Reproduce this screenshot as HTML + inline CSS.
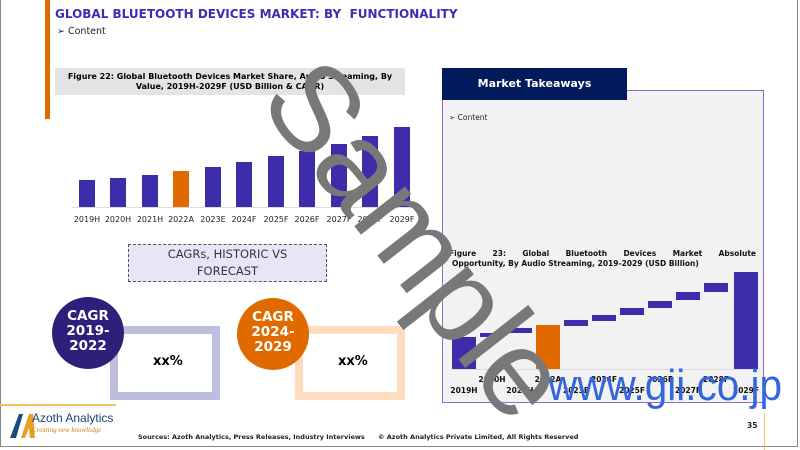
<!DOCTYPE html>
<html><head><meta charset="utf-8"><style>
body{margin:0;width:800px;height:450px;position:relative;overflow:hidden;background:#fff;font-family:"Liberation Sans",sans-serif}
.a{position:absolute}
.t{font-family:"DejaVu Sans",sans-serif}
</style></head><body>
<div class="a" style="left:0;top:0;width:796px;height:446px;border:1px solid #888;border-top:none"></div>
<div class="a" style="left:45px;top:0;width:5px;height:119px;background:#e06a00"></div>
<div class="a t" style="left:55px;top:7px;font-size:12px;font-weight:bold;color:#3b2fb0">GLOBAL BLUETOOTH DEVICES MARKET: BY &nbsp;FUNCTIONALITY</div>
<div class="a t" style="left:57px;top:26px;font-size:9.5px;color:#222">➢ Content</div>
<div class="a t" style="left:55px;top:68px;width:350px;height:27px;background:#e4e4e4;font-size:8px;font-weight:bold;text-align:center;line-height:10px;padding-top:4px;box-sizing:border-box">Figure 22: Global Bluetooth Devices Market Share, Audio Streaming, By<br>Value, 2019H-2029F (USD Billion &amp; CAGR)</div>
<svg class="a" style="left:0;top:0" width="800" height="450">
<line x1="72" y1="207.5" x2="418" y2="207.5" stroke="#ddd"/>
<g fill="#3d2daa">
<rect x="79" y="180" width="16" height="27"/><rect x="110" y="178" width="16" height="29"/><rect x="142" y="175" width="16" height="32"/>
<rect x="173" y="171" width="16" height="36" fill="#e06a00"/><rect x="205" y="167" width="16" height="40"/><rect x="236" y="162" width="16" height="45"/>
<rect x="268" y="156" width="16" height="51"/><rect x="299" y="151" width="16" height="56"/><rect x="331" y="144" width="16" height="63"/>
<rect x="362" y="136" width="16" height="71"/><rect x="394" y="127" width="16" height="80"/>
</g>
<g font-family="DejaVu Sans" font-size="8" fill="#222" text-anchor="middle">
<text x="87" y="222">2019H</text><text x="118" y="222">2020H</text><text x="150" y="222">2021H</text><text x="181" y="222">2022A</text><text x="213" y="222">2023E</text><text x="244" y="222">2024F</text><text x="276" y="222">2025F</text><text x="307" y="222">2026F</text><text x="339" y="222">2027F</text><text x="370" y="222">2028F</text><text x="402" y="222">2029F</text>
</g>
</svg>
<div class="a t" style="left:128px;top:244px;width:199px;height:38px;box-sizing:border-box;border:1.5px dashed #555;background:#e6e6f6;font-size:11.5px;color:#333;text-align:center;line-height:17px;padding-top:1px">CAGRs, HISTORIC VS<br>FORECAST</div>
<div class="a" style="left:110px;top:326px;width:110px;height:74px;box-sizing:border-box;border:8px solid #bdbddd;background:#fff"></div>
<div class="a" style="left:295px;top:326px;width:110px;height:74px;box-sizing:border-box;border:8px solid #fddcc0;background:#fff"></div>
<div class="a t" style="left:153px;top:354px;font-size:13px;font-weight:bold">xx%</div>
<div class="a t" style="left:338px;top:354px;font-size:13px;font-weight:bold">xx%</div>
<div class="a t" style="left:52px;top:297px;width:72px;height:72px;border-radius:50%;background:#2e1f7a;color:#fff;font-weight:bold;font-size:13.5px;text-align:center;line-height:15px;padding-top:12px;box-sizing:border-box">CAGR<br>2019-<br>2022</div>
<div class="a t" style="left:237px;top:298px;width:72px;height:72px;border-radius:50%;background:#e06a00;color:#fff;font-weight:bold;font-size:13.5px;text-align:center;line-height:15px;padding-top:12px;box-sizing:border-box">CAGR<br>2024-<br>2029</div>
<div class="a" style="left:0;top:404px;width:116px;height:2px;background:#f5c060"></div>
<svg class="a" style="left:8px;top:410px" width="30" height="30"><path d="M2 28 L11 4 L15 4 L8 28Z" fill="#1e4a7a"/><path d="M13 28 L21 4 L25 4 L27 28 L22 28 L21 18 L17 28Z" fill="#e8a020"/></svg>
<div class="a" style="left:32px;top:411px;font-size:12px;color:#1e3f70">Azoth Analytics</div>
<div class="a" style="left:32px;top:426px;font-size:7px;font-style:italic;color:#d08020;font-family:'Liberation Serif',serif">Creating new knowledge</div>
<div class="a t" style="left:138px;top:433px;font-size:6.5px;font-weight:bold;color:#222">Sources: Azoth Analytics, Press Releases, Industry Interviews</div>
<div class="a t" style="left:378px;top:433px;font-size:6.5px;font-weight:bold;color:#222">© Azoth Analytics Private Limited, All Rights Reserved</div>
<div class="a t" style="left:747px;top:421px;font-size:7.5px;font-weight:bold;color:#222">35</div>
<div class="a" style="left:764px;top:413px;width:1px;height:37px;background:#f5c060"></div>
<div class="a" style="left:442px;top:90px;width:322px;height:313px;box-sizing:border-box;border:1px solid #9966cc;background:#f2f2f2"></div>
<div class="a t" style="left:442px;top:68px;width:185px;height:32px;background:#001a5c;color:#fff;font-weight:bold;font-size:11px;text-align:center;line-height:32px">Market Takeaways</div>
<div class="a t" style="left:449px;top:113px;font-size:7.5px;color:#222">➢ Content</div>
<div class="a t" style="left:449px;top:249px;width:307px;font-size:7.5px;font-weight:bold;line-height:10px;text-align:justify;text-align-last:justify;color:#111">Figure 23: Global Bluetooth Devices Market Absolute<br></div>
<div class="a t" style="left:452px;top:259px;font-size:7.5px;font-weight:bold;color:#111">Opportunity, By Audio Streaming, 2019-2029 (USD Billion)</div>
<svg class="a" style="left:0;top:0" width="800" height="450">
<line x1="450" y1="369.5" x2="760" y2="369.5" stroke="#ddd"/>
<g fill="#3d2daa">
<rect x="452" y="337" width="24" height="32"/>
<rect x="480" y="333" width="24" height="4"/><rect x="508" y="328" width="24" height="5"/>
<rect x="536" y="325" width="24" height="44" fill="#e06a00"/>
<rect x="564" y="320" width="24" height="6"/><rect x="592" y="315" width="24" height="6"/><rect x="620" y="308" width="24" height="7"/>
<rect x="648" y="301" width="24" height="7"/><rect x="676" y="292" width="24" height="8"/><rect x="704" y="283" width="24" height="9"/>
<rect x="734" y="272" width="24" height="97"/>
</g>
<g font-family="DejaVu Sans" font-size="7.5" font-weight="bold" fill="#111" text-anchor="middle">
<text x="492" y="382">2020H</text><text x="548" y="382">2022A</text><text x="604" y="382">2024F</text><text x="660" y="382">2026F</text><text x="716" y="382">2028F</text>
<text x="464" y="393">2019H</text><text x="520" y="393">2021H</text><text x="576" y="393">2023E</text><text x="632" y="393">2025F</text><text x="688" y="393">2027F</text><text x="746" y="393">2029F</text>
</g>
<text x="548" y="400" font-family="Liberation Sans" font-size="44" fill="#3366dd" textLength="234" lengthAdjust="spacingAndGlyphs">www.gii.co.jp</text>
<text x="0" y="0" font-family="Liberation Sans" font-size="122" fill="#787878" transform="translate(410,245) rotate(52)" text-anchor="middle" dominant-baseline="middle">Sample</text>
</svg>
</body></html>
